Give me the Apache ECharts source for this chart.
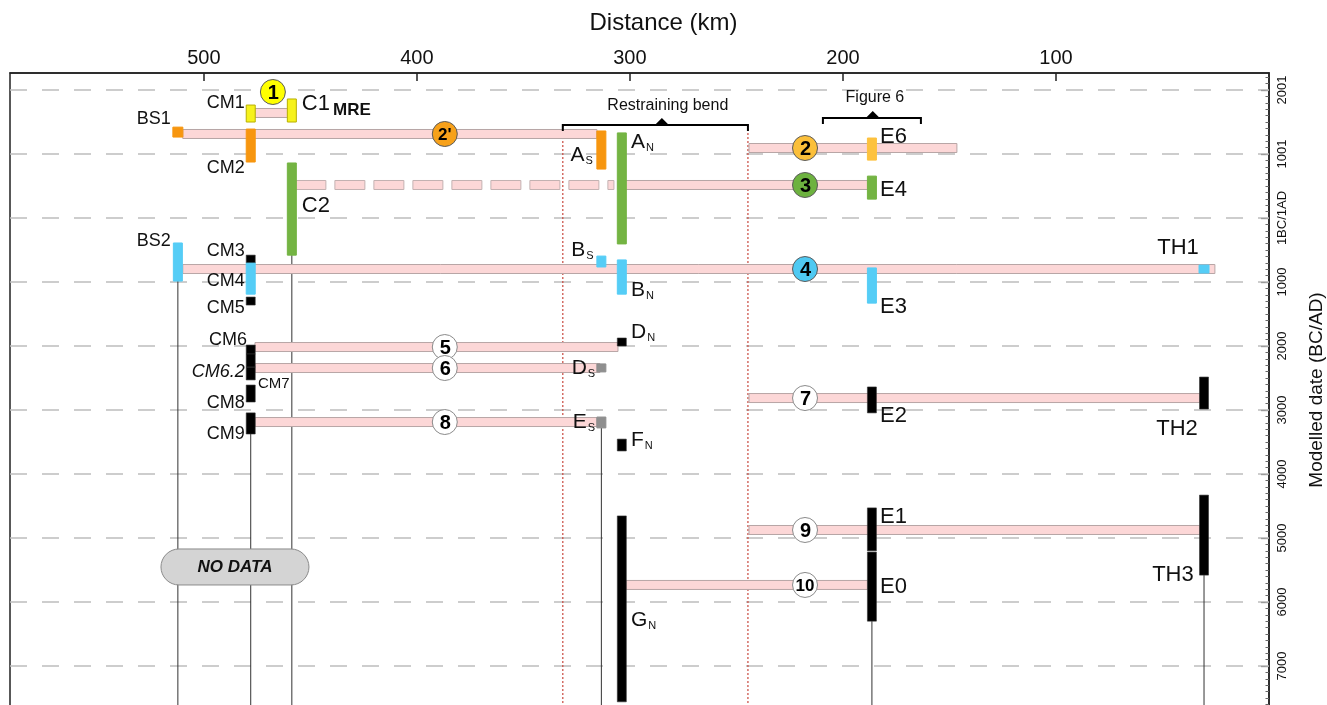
<!DOCTYPE html>
<html><head><meta charset="utf-8">
<script src="https://cdn.jsdelivr.net/npm/echarts@6/dist/echarts.min.js"></script>
<style>html,body{margin:0;padding:0;background:#fff}#c{width:1327px;height:705px}</style>
</head><body><div id="c"></div>
<script>
// ---------- axis ranges & tick labels ----------
const distMin = 0, distMax = 591;            // km (axis reversed)
const dateMin = -2266, dateMax = 7641;       // years BC (AD negative)
const dateTickValues = [-2000,-1000,0,1000,2000,3000,4000,5000,6000,7000];
const dateTickLabels = ['2001','1001','1BC/1AD','1000','2000','3000','4000','5000','6000','7000'];
const minorTickValues = [];
for (let v = -2200; v <= 7600; v += 100) minorTickValues.push(v);

// ---------- site date ranges ----------
const siteNames  = ['BS1','CM1','C1','CM2','C2','A_S','A_N','E6','E4','BS2','CM3','CM4','CM5','B_S','B_N','TH1','E3','CM6','CM6.2','CM7','CM8','CM9','D_N','D_S','E_S','F_N','G_N','E2','E1','E0','TH2','TH3'];
const siteKm     = [512.2,478,458.7,478,458.7,313.4,303.8,186.4,186.4,512.2,478,478,478,313.4,303.8,30.5,186.4,478,478,478,478,478,303.8,313.4,313.4,303.8,303.8,186.4,186.4,186.4,30.5,30.5];
const siteTop    = [-1420,-1765,-1860,-1390,-860,-1360,-1330,-1250,-655,390,580,705,1235,595,655,735,780,1985,2125,2330,2610,3045,1875,2280,3110,3455,4655,2640,4530,5220,2485,4330];
const siteBottom = [-1265,-1500,-1500,-875,580,-765,405,-905,-295,985,705,1190,1360,765,1190,860,1330,2125,2330,2530,2875,3375,2000,2405,3280,3640,7560,3045,5200,6300,2985,5580];
const siteGroup  = ["2'",'1','1',"2'",'3',"2'",'3','2','3','4','k','4','k','4','4','4','4','k','k','k','k','k','k','g','g','k','k','k','k','k','k','k'];

// ---------- rupture events ----------
const ruptureIds   = ['1',"2'",'2','3','4','5','6','7','8','9','10'];
const ruptureWest  = [476,509.9,244.1,305.6,509.9,476,476,244.1,476,244.1,301.9];
const ruptureEast  = [460.6,315.5,146.5,188.3,25.4,305.6,314.1,32.4,315.5,32.4,188.3];
const ruptureYear  = [-1641,-1313,-1094,-516,797,2016,2344,2813,3188,4875,5734];
const circleKm     = [467.6,386.9,217.8,217.8,217.8,386.9,386.9,217.8,386.9,217.8,217.8];
const circleYear   = [-1969,-1313,-1094,-516,797,2016,2344,2813,3188,4875,5734];
// inferred (dashed) extension of rupture 3
const inferredWest = [456.8];
const inferredEast = [307.5];
const inferredYear = [-516];

// ---------- vertical lines ----------
const noDataKm   = [512.2,478,458.7,313.4,186.4,30.5];
const noDataFrom = [985,3375,580,3280,6300,5580];
const bendKm     = [331.5,244.6];
const bendFrom   = [-1453,-1453];
const noDataPill = [[485.4,5453]];

// ---------- brackets ----------
const bracketText = ['Restraining bend','Figure 6'];
const bracketWest = [331.5,209.4];
const bracketEast = [244.6,163.4];
const bracketYear = [-1453,-1562];
const bracketApex = [285,186];
const bracketTextKm = [282.2,185];
const bracketTextYear = [-1750,-1875];

// ---------- labels ----------
const labelTexts = ['CM1','C1_MRE','BS1','CM2','C2','A_S','A_N','E6','E4','BS2','CM3','CM4','CM5','B_S','B_N','TH1','E3','CM6','D_N','CM6.2','CM7','D_S','CM8','CM9','E_S','F_N','E2','TH2','E1','E0','TH3','G_N'];
const labelKm    = [480.8,454.0,515.5,480.8,454.0,317.4,299.5,182.6,182.6,515.5,480.8,480.8,480.8,317.0,299.5,42.7,182.6,479.8,299.5,480.8,474.6,316.3,480.8,480.8,316.3,299.5,182.6,43.2,182.6,182.6,45.1,299.5];
const labelYear  = [-1800,-1781,-1547,-781,-188,-984,-1188,-1266,-437,359,516,984,1406,500,1125,469,1391,1906,1781,2406,2594,2344,2891,3375,3188,3469,3094,3300,4672,5766,5578,6281];
const labelSide  = ['r','l','r','r','l','r','l','l','l','r','r','r','r','r','l','c','l','r','l','r','l','r','r','r','r','l','l','c','l','l','c','l'];

// ---------- styles ----------
const groupColor = {"1":'#f6f21c',"2'":'#f7960f',"2":'#fdc23e',"3":'#74b443',"4":'#55cdf6',"k":'#000',"g":'#8f8f8f'};
const groupStroke = {"1":'#b9b000',"2'":'#f7960f',"2":'#fdc23e',"3":'#74b443',"4":'#55cdf6',"k":'#333',"g":'#8f8f8f'};
const circleFill = ['#ffff00','#f7a11a','#fbbf3a','#6db23f','#4fc9f2','#fff','#fff','#fff','#fff','#fff','#fff'];
const FONT = '"Liberation Sans", Arial, sans-serif';
const ALIGN = {l: 'left', r: 'right', c: 'center'};

function richLabel(t) {
  if (t === 'C1_MRE') return '{big|C1}{mre|MRE}';
  if (t.indexOf('_') > 0) { const p = t.split('_'); return '{sb|' + p[0] + '}{sub|' + p[1] + '}'; }
  if (t === 'CM6.2') return '{it|CM6.2}';
  if (t === 'CM7') return '{cm7|CM7}';
  if (t.startsWith('CM') || t.startsWith('BS')) return '{cm|' + t + '}';
  return '{big|' + t + '}';
}
const richStyles = {
  big: {fontSize: 22, fontFamily: FONT, color: '#111', verticalAlign: 'bottom'},
  mre: {fontSize: 17, fontWeight: 'bold', fontFamily: FONT, color: '#111', verticalAlign: 'bottom', padding: [0,0,-4,3]},
  sb: {fontSize: 21, fontFamily: FONT, color: '#111', verticalAlign: 'bottom'},
  sub: {fontSize: 11, fontFamily: FONT, color: '#111', verticalAlign: 'bottom', padding: [0,0,-1,1]},
  cm: {fontSize: 18, fontFamily: FONT, color: '#111'},
  cm7: {fontSize: 15, fontFamily: FONT, color: '#111'},
  it: {fontSize: 18, fontFamily: FONT, fontStyle: 'italic', color: '#111'}
};

const chart = echarts.init(document.getElementById('c'), null, {renderer: 'canvas'});

function seriesBase(name, z, data, render, dims) {
  return {type: 'custom', name, z, silent: true, coordinateSystem: 'cartesian2d', xAxisIndex: 0, yAxisIndex: 0,
    data, renderItem: render, encode: dims || {x: 0, y: 1}, animation: false};
}

const series = [
  // gridlines
  seriesBase('grid', 1, dateTickValues.map(v => [distMin, v]), (p, api) => {
    const y = api.value(1);
    const a = api.coord([distMax, y]), b = api.coord([distMin, y]);
    return {type: 'line', shape: {x1: a[0], y1: a[1], x2: b[0], y2: b[1]},
      style: {stroke: '#bdbdbd', lineWidth: 1.5, lineDash: [17, 15]}};
  }),
  // restraining bend dotted lines
  seriesBase('bend', 2, bendKm.map((k, i) => [k, bendFrom[i]]), (p, api) => {
    const a = api.coord([api.value(0), api.value(1)]), b = api.coord([api.value(0), dateMax]);
    return {type: 'line', shape: {x1: a[0], y1: a[1], x2: b[0], y2: b[1]},
      style: {stroke: '#c8453b', lineWidth: 1.2, lineDash: [2, 2]}};
  }),
  // no-data lines
  seriesBase('nodata', 3, noDataKm.map((k, i) => [k, noDataFrom[i]]), (p, api) => {
    const a = api.coord([api.value(0), api.value(1)]), b = api.coord([api.value(0), dateMax]);
    return {type: 'line', shape: {x1: a[0], y1: a[1], x2: b[0], y2: b[1]},
      style: {stroke: '#333', lineWidth: 1}};
  }),
  // inferred dashed rupture (drawn as outlined dash pieces)
  seriesBase('inferred', 4, inferredWest.map((w, i) => [w, inferredEast[i], inferredYear[i]]), (p, api) => {
    const a = api.coord([api.value(0), api.value(2)]), b = api.coord([api.value(1), api.value(2)]);
    const h = 9, dash = 30, gap = 9;
    const x0 = Math.min(a[0], b[0]), x1 = Math.max(a[0], b[0]);
    const kids = [];
    for (let x = x0; x < x1; x += dash + gap) {
      kids.push({type: 'rect', shape: {x: x, y: a[1] - h / 2, width: Math.min(dash, x1 - x), height: h},
        style: {fill: '#fcd7d7', stroke: '#c4b2b2', lineWidth: 1}});
    }
    return {type: 'group', children: kids};
  }, {x: [0, 1], y: 2}),
  // rupture bars
  seriesBase('ruptures', 5, ruptureWest.map((w, i) => [w, ruptureEast[i], ruptureYear[i]]), (p, api) => {
    const a = api.coord([api.value(0), api.value(2)]), b = api.coord([api.value(1), api.value(2)]);
    const h = 9;
    return {type: 'rect', shape: {x: Math.min(a[0], b[0]), y: a[1] - h / 2, width: Math.abs(b[0] - a[0]), height: h},
      style: {fill: '#fcd7d7', stroke: '#b8a6a6', lineWidth: 1}};
  }, {x: [0, 1], y: 2}),
  // NO DATA pill
  seriesBase('pill', 6, noDataPill, (p, api) => {
    const c = api.coord([api.value(0), api.value(1)]);
    return {type: 'group', children: [
      {type: 'rect', shape: {x: c[0] - 74, y: c[1] - 18, width: 148, height: 36, r: 18},
        style: {fill: '#d4d4d4', stroke: '#8a8a8a', lineWidth: 1}},
      {type: 'text', style: {x: c[0], y: c[1], text: 'NO DATA', align: 'center', verticalAlign: 'middle',
        font: 'italic bold 17px ' + FONT, fill: '#111'}}
    ]};
  }),
  // site bars
  seriesBase('sites', 7, siteKm.map((k, i) => [k, siteTop[i], siteBottom[i], i]), (p, api) => {
    const i = api.value(3);
    const a = api.coord([api.value(0), api.value(1)]), b = api.coord([api.value(0), api.value(2)]);
    const g = siteGroup[i];
    const w = (siteNames[i] === 'BS1' || siteNames[i] === 'TH1') ? 10 : 9;
    return {type: 'rect', shape: {x: a[0] - w / 2, y: a[1], width: w, height: b[1] - a[1]},
      style: {fill: groupColor[g], stroke: groupStroke[g], lineWidth: g === 'k' ? 0.6 : 1}};
  }, {x: 0, y: [1, 2]}),
  // event circles
  seriesBase('circles', 8, circleKm.map((k, i) => [k, circleYear[i], i]), (p, api) => {
    const i = api.value(2);
    const c = api.coord([api.value(0), api.value(1)]);
    const id = ruptureIds[i];
    return {type: 'group', children: [
      {type: 'circle', shape: {cx: c[0], cy: c[1], r: 12.5},
        style: {fill: circleFill[i], stroke: i < 5 ? '#5a5a5a' : '#8a8a8a', lineWidth: 1}},
      {type: 'text', style: {x: c[0] + (id.length > 1 ? 0 : 0.5), y: c[1] + 1, text: id, align: 'center', verticalAlign: 'middle',
        font: 'bold ' + (id.length > 1 ? 17 : 20) + 'px ' + FONT, fill: '#000'}}
    ]};
  }),
  // labels
  seriesBase('labels', 9, labelKm.map((k, i) => [k, labelYear[i], i]), (p, api) => {
    const i = api.value(2);
    const c = api.coord([api.value(0), api.value(1)]);
    return {type: 'text', style: {x: c[0], y: c[1], text: richLabel(labelTexts[i]), rich: richStyles,
      align: ALIGN[labelSide[i]], verticalAlign: 'middle', fill: '#111'}};
  }),
  // brackets
  seriesBase('brackets', 9, bracketWest.map((w, i) => [w, bracketEast[i], bracketYear[i], bracketApex[i], bracketTextKm[i], bracketTextYear[i], i]), (p, api) => {
    const i = api.value(6);
    const a = api.coord([api.value(0), api.value(2)]), b = api.coord([api.value(1), api.value(2)]);
    const ap = api.coord([api.value(3), api.value(2)]);
    const t = api.coord([api.value(4), api.value(5)]);
    return {type: 'group', children: [
      {type: 'polyline', shape: {points: [[a[0], a[1] + 6], [a[0], a[1]], [b[0], b[1]], [b[0], b[1] + 6]]},
        style: {stroke: '#000', lineWidth: 2, fill: null}},
      {type: 'polygon', shape: {points: [[ap[0] - 7, ap[1]], [ap[0] + 7, ap[1]], [ap[0], ap[1] - 7]]},
        style: {fill: '#000'}},
      {type: 'text', style: {x: t[0], y: t[1], text: bracketText[i], align: 'center', verticalAlign: 'middle',
        font: '16px ' + FONT, fill: '#111'}}
    ]};
  }, {x: [0, 1], y: 2})
];

chart.setOption({
  animation: false,
  title: {text: 'Distance (km)', left: 'center', top: 6,
    textStyle: {fontFamily: FONT, fontSize: 24, fontWeight: 'normal', color: '#111'}},
  grid: {left: 10, right: 58, top: 73, bottom: -2, containLabel: false, outerBoundsMode: 'none',
    show: true, borderColor: '#222', borderWidth: 1.5, backgroundColor: 'transparent'},
  xAxis: {type: 'value', position: 'top', inverse: true, min: distMin, max: distMax, interval: 100,
    axisLine: {show: true, onZero: false, lineStyle: {color: '#222', width: 1.5}},
    axisTick: {show: true, inside: true, length: 8, lineStyle: {color: '#222', width: 1.5}},
    axisLabel: {show: true, showMinLabel: false, showMaxLabel: false, margin: 5,
      fontFamily: FONT, fontSize: 20, color: '#111'},
    splitLine: {show: false}},
  yAxis: [
    {type: 'value', position: 'right', inverse: true, min: dateMin, max: dateMax,
      name: 'Modelled date (BC/AD)', nameLocation: 'middle', nameGap: 38, nameRotate: 90,
      nameTextStyle: {fontFamily: FONT, fontSize: 19, color: '#111'},
      axisLine: {show: true, onZero: false, lineStyle: {color: '#222', width: 1.5}},
      axisTick: {show: true, inside: true, length: 8, customValues: dateTickValues, lineStyle: {color: '#333', width: 1.2}},
      axisLabel: {show: true, rotate: 90, margin: 7, customValues: dateTickValues,
        formatter: v => { const k = dateTickValues.indexOf(v); return k >= 0 ? dateTickLabels[k] : ''; },
        fontFamily: FONT, fontSize: 13, color: '#111'},
      splitLine: {show: false}},
    {type: 'value', position: 'right', inverse: true, min: dateMin, max: dateMax,
      axisLine: {show: false, onZero: false}, axisLabel: {show: false}, splitLine: {show: false},
      axisTick: {show: true, inside: true, length: 3.5, customValues: minorTickValues, lineStyle: {color: '#666', width: 1}}}
  ],
  series: series
});
</script></body></html>
